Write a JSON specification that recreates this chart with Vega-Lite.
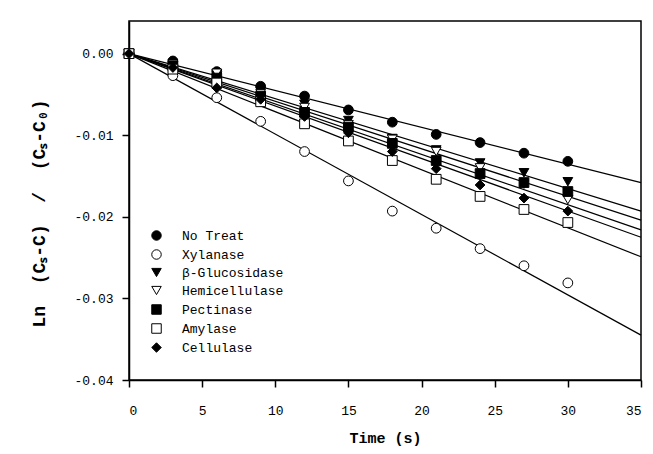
{
  "$schema": "https://vega.github.io/schema/vega-lite/v6.json",
  "autosize": "none",
  "width": 512,
  "height": 359,
  "padding": {"left": 129, "top": 21, "right": 12, "bottom": 74},
  "background": "white",
  "config": {
    "view": {"stroke": "black", "strokeWidth": 1.5},
    "font": "Liberation Mono",
    "axis": {
      "grid": false,
      "domainColor": "black",
      "domainWidth": 1.5,
      "tickColor": "black",
      "tickWidth": 1.5,
      "tickSize": 7,
      "labelFont": "Liberation Mono",
      "labelFontSize": 13,
      "labelColor": "black",
      "titleFont": "Liberation Mono",
      "titleFontSize": 15,
      "titleFontWeight": "bold",
      "titleColor": "black"
    },
    "legend": {
      "labelFont": "Liberation Mono",
      "labelFontSize": 13,
      "labelColor": "black",
      "symbolStrokeColor": "black",
      "symbolStrokeWidth": 1,
      "symbolOpacity": 1,
      "symbolSize": 90
    }
  },
  "datasets": {
    "pts": [
      {"t": 0, "v": 0, "s": "No Treat"}, {"t": 3, "v": -0.0009, "s": "No Treat"}, {"t": 6, "v": -0.0022, "s": "No Treat"}, {"t": 9, "v": -0.0040, "s": "No Treat"}, {"t": 12, "v": -0.0052, "s": "No Treat"}, {"t": 15, "v": -0.0069, "s": "No Treat"}, {"t": 18, "v": -0.0084, "s": "No Treat"}, {"t": 21, "v": -0.0099, "s": "No Treat"}, {"t": 24, "v": -0.0109, "s": "No Treat"}, {"t": 27, "v": -0.0122, "s": "No Treat"}, {"t": 30, "v": -0.0132, "s": "No Treat"},
      {"t": 0, "v": 0, "s": "Xylanase"}, {"t": 3, "v": -0.0027, "s": "Xylanase"}, {"t": 6, "v": -0.0054, "s": "Xylanase"}, {"t": 9, "v": -0.0083, "s": "Xylanase"}, {"t": 12, "v": -0.0120, "s": "Xylanase"}, {"t": 15, "v": -0.0156, "s": "Xylanase"}, {"t": 18, "v": -0.0193, "s": "Xylanase"}, {"t": 21, "v": -0.0214, "s": "Xylanase"}, {"t": 24, "v": -0.0239, "s": "Xylanase"}, {"t": 27, "v": -0.0260, "s": "Xylanase"}, {"t": 30, "v": -0.0281, "s": "Xylanase"},
      {"t": 0, "v": 0, "s": "β-Glucosidase"}, {"t": 3, "v": -0.0012, "s": "β-Glucosidase"}, {"t": 6, "v": -0.0025, "s": "β-Glucosidase"}, {"t": 9, "v": -0.0046, "s": "β-Glucosidase"}, {"t": 12, "v": -0.0062, "s": "β-Glucosidase"}, {"t": 15, "v": -0.0082, "s": "β-Glucosidase"}, {"t": 18, "v": -0.0104, "s": "β-Glucosidase"}, {"t": 21, "v": -0.0118, "s": "β-Glucosidase"}, {"t": 24, "v": -0.0134, "s": "β-Glucosidase"}, {"t": 27, "v": -0.0146, "s": "β-Glucosidase"}, {"t": 30, "v": -0.0157, "s": "β-Glucosidase"},
      {"t": 0, "v": 0, "s": "Hemicellulase"}, {"t": 3, "v": -0.0013, "s": "Hemicellulase"}, {"t": 6, "v": -0.0024, "s": "Hemicellulase"}, {"t": 9, "v": -0.0049, "s": "Hemicellulase"}, {"t": 12, "v": -0.0066, "s": "Hemicellulase"}, {"t": 15, "v": -0.0087, "s": "Hemicellulase"}, {"t": 18, "v": -0.0105, "s": "Hemicellulase"}, {"t": 21, "v": -0.0120, "s": "Hemicellulase"}, {"t": 24, "v": -0.0140, "s": "Hemicellulase"}, {"t": 27, "v": -0.0160, "s": "Hemicellulase"}, {"t": 30, "v": -0.0179, "s": "Hemicellulase"},
      {"t": 0, "v": 0, "s": "Pectinase"}, {"t": 3, "v": -0.0015, "s": "Pectinase"}, {"t": 6, "v": -0.0030, "s": "Pectinase"}, {"t": 9, "v": -0.0052, "s": "Pectinase"}, {"t": 12, "v": -0.0072, "s": "Pectinase"}, {"t": 15, "v": -0.0090, "s": "Pectinase"}, {"t": 18, "v": -0.0110, "s": "Pectinase"}, {"t": 21, "v": -0.0131, "s": "Pectinase"}, {"t": 24, "v": -0.0147, "s": "Pectinase"}, {"t": 27, "v": -0.0158, "s": "Pectinase"}, {"t": 30, "v": -0.0169, "s": "Pectinase"},
      {"t": 0, "v": 0, "s": "Amylase"}, {"t": 3, "v": -0.0019, "s": "Amylase"}, {"t": 6, "v": -0.0036, "s": "Amylase"}, {"t": 9, "v": -0.0059, "s": "Amylase"}, {"t": 12, "v": -0.0086, "s": "Amylase"}, {"t": 15, "v": -0.0107, "s": "Amylase"}, {"t": 18, "v": -0.0131, "s": "Amylase"}, {"t": 21, "v": -0.0154, "s": "Amylase"}, {"t": 24, "v": -0.0175, "s": "Amylase"}, {"t": 27, "v": -0.0191, "s": "Amylase"}, {"t": 30, "v": -0.0207, "s": "Amylase"},
      {"t": 0, "v": 0, "s": "Cellulase"}, {"t": 3, "v": -0.0017, "s": "Cellulase"}, {"t": 6, "v": -0.0042, "s": "Cellulase"}, {"t": 9, "v": -0.0056, "s": "Cellulase"}, {"t": 12, "v": -0.0077, "s": "Cellulase"}, {"t": 15, "v": -0.0097, "s": "Cellulase"}, {"t": 18, "v": -0.0120, "s": "Cellulase"}, {"t": 21, "v": -0.0141, "s": "Cellulase"}, {"t": 24, "v": -0.0161, "s": "Cellulase"}, {"t": 27, "v": -0.0177, "s": "Cellulase"}, {"t": 30, "v": -0.0193, "s": "Cellulase"}
    ],
    "fit": [
      {"t": 0, "v": 0, "s": "No Treat"}, {"t": 35, "v": -0.0158, "s": "No Treat"},
      {"t": 0, "v": 0, "s": "Xylanase"}, {"t": 35, "v": -0.0345, "s": "Xylanase"},
      {"t": 0, "v": 0, "s": "β-Glucosidase"}, {"t": 35, "v": -0.0193, "s": "β-Glucosidase"},
      {"t": 0, "v": 0, "s": "Hemicellulase"}, {"t": 35, "v": -0.0216, "s": "Hemicellulase"},
      {"t": 0, "v": 0, "s": "Pectinase"}, {"t": 35, "v": -0.0204, "s": "Pectinase"},
      {"t": 0, "v": 0, "s": "Amylase"}, {"t": 35, "v": -0.0249, "s": "Amylase"},
      {"t": 0, "v": 0, "s": "Cellulase"}, {"t": 35, "v": -0.0225, "s": "Cellulase"}
    ]
  },
  "layer": [
    {
      "data": {"name": "fit"},
      "mark": {"type": "line", "color": "black", "strokeWidth": 1.2},
      "encoding": {
        "x": {"field": "t", "type": "quantitative"},
        "y": {"field": "v", "type": "quantitative"},
        "detail": {"field": "s"}
      }
    },
    {
      "data": {"name": "pts"},
      "mark": {"type": "point", "filled": false, "stroke": "black", "strokeWidth": 1, "opacity": 1, "size": 95},
      "encoding": {
        "x": {
          "field": "t", "type": "quantitative",
          "scale": {"domain": [0, 35], "nice": false, "zero": false},
          "axis": {"values": [0, 5, 10, 15, 20, 25, 30, 35], "labelPadding": 17, "titlePadding": 13, "title": "Time (s)"}
        },
        "y": {
          "field": "v", "type": "quantitative",
          "scale": {"domain": [-0.04, 0.004], "nice": false, "zero": false},
          "axis": {
            "values": [0, -0.01, -0.02, -0.03, -0.04],
            "labelExpr": "datum.value == 0 ? '0.00' : '-' + format(abs(datum.value), '.2f')",
            "labelPadding": 9,
            "titlePadding": 25,
            "titleFontSize": 18,
            "titleY": 192,
            "title": "Ln\u00a0\u00a0(Cₛ-C)\u00a0\u00a0/\u00a0\u00a0(Cₛ-C₀)"
          }
        },
        "shape": {
          "field": "s", "type": "nominal",
          "scale": {
            "domain": ["No Treat", "Xylanase", "β-Glucosidase", "Hemicellulase", "Pectinase", "Amylase", "Cellulase"],
            "range": ["circle", "circle", "triangle-down", "triangle-down", "square", "square", "diamond"]
          },
          "legend": {
            "title": null, "orient": "none", "legendX": 21, "legendY": 208, "padding": 0, "labelOffset": 19, "rowPadding": 4,
            "symbolStrokeColor": "black",
            "encode": {"symbols": {"update": {"stroke": {"value": "black"}, "strokeWidth": {"value": 1}, "opacity": {"value": 1}}}}
          }
        },
        "fill": {
          "field": "s", "type": "nominal",
          "scale": {
            "domain": ["No Treat", "Xylanase", "β-Glucosidase", "Hemicellulase", "Pectinase", "Amylase", "Cellulase"],
            "range": ["black", "white", "black", "white", "black", "white", "black"]
          },
          "legend": {
            "title": null, "orient": "none", "legendX": 21, "legendY": 208, "padding": 0, "labelOffset": 19, "rowPadding": 4,
            "symbolStrokeColor": "black",
            "encode": {"symbols": {"update": {"stroke": {"value": "black"}, "strokeWidth": {"value": 1}, "opacity": {"value": 1}}}}
          }
        }
      }
    }
  ]
}
